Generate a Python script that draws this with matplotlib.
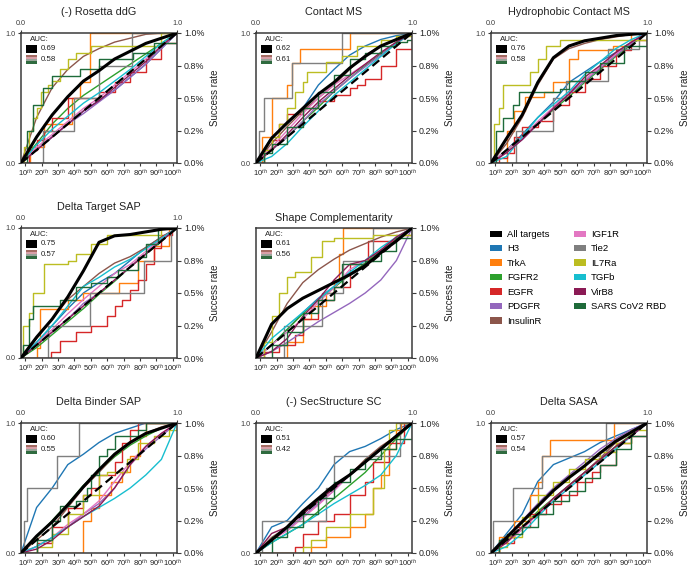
import matplotlib
matplotlib.use('Agg')
import matplotlib.pyplot as plt
from matplotlib.patches import Rectangle, Patch

plt.rcParams['font.family'] = ['Liberation Sans', 'DejaVu Sans']
plt.rcParams['mathtext.fontset'] = 'custom'
plt.rcParams['mathtext.rm'] = 'Liberation Sans'
plt.rcParams['mathtext.it'] = 'Liberation Sans:italic'

TARGETS = ['H3', 'TrkA', 'FGFR2', 'EGFR', 'PDGFR', 'InsulinR', 'IGF1R',
           'Tie2', 'IL7Ra', 'TGFb', 'VirB8', 'SARS CoV2 RBD']
COLORS = ['#1f77b4', '#ff7f0e', '#2ca02c', '#d62728', '#9467bd', '#8c564b',
          '#e377c2', '#7f7f7f', '#bcbd22', '#17becf', '#8b1a55', '#1e6b3a']
DECILES = [0, 0.1, 0.2, 0.3, 0.4, 0.5, 0.6, 0.7, 0.8, 0.9, 1.0]
PCT_LABELS = ['10', '20', '30', '40', '50', '60', '70', '80', '90', '100']
RATE_TICKS = [0, 0.25, 0.5, 0.75, 1.0]
RATE_LABELS = ['0.0%', '0.2%', '0.5%', '0.8%', '1.0%']

TITLES = ['(-) Rosetta ddG', 'Contact MS', 'Hydrophobic Contact MS',
          'Delta Target SAP', 'Shape Complementarity',
          'Delta Binder SAP', '(-) SecStructure SC', 'Delta SASA']
AUC_ALL = ['0.69', '0.62', '0.76', '0.75', '0.61', '0.60', '0.51', '0.57']
AUC_TGT = ['0.58', '0.61', '0.58', '0.57', '0.56', '0.55', '0.42', '0.54']

# curves: list of y on DECILES (drawn as lines) or (x, y) breakpoints (drawn as steps)
ALL_TARGETS = [
    [0, 0.2, 0.37, 0.51, 0.63, 0.71, 0.80, 0.86, 0.92, 0.96, 1],
    [0, 0.19, 0.31, 0.42, 0.53, 0.62, 0.73, 0.82, 0.9, 0.95, 1],
    [0, 0.19, 0.37, 0.62, 0.81, 0.9, 0.94, 0.96, 0.98, 0.99, 1],
    [0, 0.16, 0.30, 0.47, 0.67, 0.89, 0.94, 0.95, 0.97, 0.99, 1],
    [0, 0.26, 0.38, 0.46, 0.52, 0.58, 0.64, 0.71, 0.81, 0.9, 1],
    [0, 0.13, 0.24, 0.37, 0.51, 0.64, 0.76, 0.85, 0.92, 0.96, 1],
    [0, 0.1, 0.2, 0.32, 0.42, 0.52, 0.6, 0.7, 0.8, 0.9, 1],
    [0, 0.12, 0.24, 0.36, 0.48, 0.58, 0.67, 0.77, 0.86, 0.93, 1],
]

ROSETTA_DDG = [
    [0, 0.1, 0.2, 0.3, 0.4, 0.48, 0.56, 0.66, 0.76, 0.88, 1],
    ([0, 0.06, 0.15, 0.33, 0.38, 0.44, 1.0], [0, 0.12, 0.3, 0.5, 0.62, 1.0, 1.0]),
    [0, 0.15, 0.3, 0.42, 0.52, 0.6, 0.68, 0.76, 0.84, 0.92, 1],
    ([0, 0.05, 0.1, 0.15, 0.2, 0.3, 0.4, 0.5, 0.6, 0.7, 0.8, 0.9, 1],
     [0, 0.1, 0.18, 0.25, 0.35, 0.5, 0.5, 0.55, 0.62, 0.7, 0.8, 0.92, 1]),
    [0, 0.1, 0.2, 0.3, 0.38, 0.47, 0.56, 0.66, 0.76, 0.88, 1],
    [0, 0.35, 0.58, 0.72, 0.82, 0.88, 0.93, 0.96, 0.99, 1.0, 1.0],
    [0, 0.12, 0.22, 0.32, 0.42, 0.5, 0.6, 0.7, 0.8, 0.9, 1],
    ([0, 0.14, 0.34, 0.5, 0.71, 1.0], [0, 0.25, 0.5, 0.75, 1.0, 1.0]),
    ([0, 0.02, 0.05, 0.08, 0.1, 0.13, 0.17, 0.2, 0.25, 0.3, 0.35, 0.45, 0.9, 1],
     [0, 0.12, 0.25, 0.35, 0.42, 0.55, 0.6, 0.63, 0.72, 0.8, 0.85, 0.9, 1.0, 1.0]),
    [0, 0.14, 0.26, 0.36, 0.46, 0.54, 0.63, 0.72, 0.82, 0.92, 1],
    [0, 0.1, 0.2, 0.3, 0.4, 0.48, 0.58, 0.68, 0.78, 0.9, 1],
    ([0, 0.04, 0.08, 0.14, 0.2, 0.38, 0.5, 0.72, 0.85, 1.0],
     [0, 0.25, 0.45, 0.58, 0.67, 0.72, 0.8, 0.85, 0.92, 1.0]),
]

CONTACT_MS = [
    [0, 0.2, 0.3, 0.42, 0.6, 0.72, 0.83, 0.9, 0.95, 0.98, 1],
    ([0, 0.04, 0.1, 0.2, 0.23, 0.28, 0.6, 1], [0, 0.2, 0.5, 0.6, 0.77, 0.88, 1.0, 1.0]),
    [0, 0.1, 0.2, 0.32, 0.43, 0.55, 0.65, 0.75, 0.84, 0.93, 1],
    ([0, 0.05, 0.1, 0.15, 0.2, 0.3, 0.4, 0.5, 0.6, 0.65, 0.7, 0.8, 0.9, 1],
     [0, 0.1, 0.18, 0.3, 0.38, 0.42, 0.48, 0.52, 0.58, 0.6, 0.65, 0.75, 0.88, 1]),
    [0, 0.1, 0.2, 0.32, 0.45, 0.55, 0.65, 0.74, 0.83, 0.92, 1],
    [0, 0.15, 0.28, 0.4, 0.5, 0.6, 0.72, 0.83, 0.9, 0.95, 1],
    [0, 0.12, 0.25, 0.38, 0.5, 0.6, 0.68, 0.76, 0.85, 0.93, 1],
    ([0, 0.02, 0.05, 0.23, 0.55, 1], [0, 0.25, 0.5, 0.77, 1.0, 1.0]),
    ([0, 0.05, 0.1, 0.15, 0.2, 0.25, 0.3, 0.33, 0.45, 0.55, 0.65, 0.8, 0.9, 1],
     [0, 0.1, 0.2, 0.3, 0.42, 0.55, 0.62, 0.7, 0.78, 0.82, 0.9, 0.95, 0.98, 1]),
    [0, 0.05, 0.15, 0.28, 0.4, 0.52, 0.62, 0.72, 0.82, 0.92, 1],
    [0, 0.1, 0.22, 0.35, 0.47, 0.57, 0.67, 0.76, 0.85, 0.93, 1],
    ([0, 0.05, 0.1, 0.2, 0.3, 0.4, 0.5, 0.6, 0.7, 0.8, 0.9, 0.97, 1],
     [0, 0.08, 0.15, 0.28, 0.42, 0.55, 0.68, 0.8, 0.85, 0.9, 0.93, 0.95, 0.95]),
]

HYDRO_CONTACT_MS = [
    [0, 0.1, 0.22, 0.35, 0.47, 0.62, 0.7, 0.78, 0.85, 0.93, 1],
    ([0, 0.1, 0.15, 0.22, 0.34, 0.4, 0.5, 0.56, 0.78, 0.9, 1],
     [0, 0.25, 0.4, 0.51, 0.55, 0.62, 0.8, 0.87, 0.9, 1.0, 1.0]),
    [0, 0.1, 0.2, 0.3, 0.41, 0.51, 0.62, 0.72, 0.82, 0.91, 1],
    ([0, 0.05, 0.1, 0.15, 0.2, 0.3, 0.4, 0.5, 0.6, 0.7, 0.8, 0.9, 1],
     [0, 0.04, 0.08, 0.2, 0.28, 0.32, 0.45, 0.55, 0.65, 0.75, 0.87, 0.95, 1]),
    [0, 0.08, 0.18, 0.3, 0.42, 0.53, 0.63, 0.73, 0.83, 0.92, 1],
    [0, 0.15, 0.35, 0.6, 0.8, 0.88, 0.92, 0.95, 0.97, 0.99, 1],
    [0, 0.1, 0.2, 0.32, 0.43, 0.55, 0.64, 0.74, 0.84, 0.93, 1],
    ([0, 0.16, 0.4, 0.48, 0.75, 0.95, 1], [0, 0.25, 0.5, 0.63, 0.88, 1.0, 1.0]),
    ([0, 0.02, 0.05, 0.08, 0.17, 0.25, 0.3, 0.35, 0.44, 0.9, 1],
     [0, 0.3, 0.42, 0.6, 0.6, 0.7, 0.8, 0.9, 0.95, 0.95, 1]),
    [0, 0.05, 0.2, 0.35, 0.45, 0.55, 0.68, 0.78, 0.88, 0.95, 1],
    [0, 0.08, 0.18, 0.3, 0.42, 0.53, 0.66, 0.75, 0.85, 0.93, 1],
    ([0, 0.03, 0.08, 0.14, 0.18, 0.44, 0.5, 0.6, 0.7, 0.85, 1],
     [0, 0.25, 0.35, 0.45, 0.55, 0.57, 0.63, 0.7, 0.77, 0.9, 1.0]),
]

TARGET_SAP = [
    [0, 0.12, 0.25, 0.38, 0.5, 0.58, 0.65, 0.75, 0.85, 0.93, 1],
    ([0, 0.1, 0.12, 0.25, 0.3, 0.4, 0.63, 0.75, 0.85, 0.95, 1],
     [0, 0.08, 0.38, 0.38, 0.45, 0.5, 0.58, 0.75, 0.86, 1.0, 1.0]),
    [0, 0.08, 0.18, 0.28, 0.38, 0.49, 0.59, 0.7, 0.8, 0.9, 1],
    ([0, 0.19, 0.25, 0.35, 0.45, 0.55, 0.6, 0.65, 0.7, 0.75, 0.8, 0.85, 0.9, 0.97, 1],
     [0, 0.05, 0.13, 0.2, 0.25, 0.32, 0.4, 0.45, 0.52, 0.6, 0.72, 0.85, 0.95, 1, 1]),
    [0, 0.1, 0.2, 0.3, 0.42, 0.5, 0.6, 0.7, 0.8, 0.92, 1],
    [0, 0.15, 0.3, 0.45, 0.55, 0.65, 0.73, 0.78, 0.85, 0.93, 1],
    [0, 0.12, 0.22, 0.34, 0.45, 0.55, 0.65, 0.72, 0.82, 0.92, 1],
    ([0, 0.17, 0.44, 0.79, 0.96, 1], [0, 0.25, 0.5, 0.75, 1.0, 1.0]),
    ([0, 0.01, 0.05, 0.08, 0.15, 0.3, 0.35, 0.45, 0.55, 0.9, 1],
     [0, 0.25, 0.35, 0.5, 0.72, 0.75, 0.8, 0.88, 0.95, 1.0, 1.0]),
    [0, 0.12, 0.25, 0.4, 0.55, 0.62, 0.7, 0.76, 0.84, 0.92, 1],
    [0, 0.1, 0.2, 0.3, 0.4, 0.5, 0.6, 0.7, 0.8, 0.9, 1],
    ([0, 0.01, 0.05, 0.08, 0.25, 0.35, 0.45, 0.55, 0.62, 0.75, 0.8, 0.88, 1],
     [0, 0.1, 0.3, 0.4, 0.45, 0.55, 0.58, 0.62, 0.68, 0.78, 0.88, 1.0, 1.0]),
]

SHAPE_COMP = [
    [0, 0.1, 0.22, 0.35, 0.46, 0.55, 0.65, 0.72, 0.82, 0.92, 1],
    ([0, 0.2, 0.3, 0.35, 0.45, 0.5, 0.53, 0.56, 1], [0, 0.12, 0.3, 0.4, 0.5, 0.6, 0.8, 1.0, 1.0]),
    [0, 0.1, 0.22, 0.34, 0.45, 0.54, 0.64, 0.73, 0.83, 0.92, 1],
    ([0, 0.05, 0.15, 0.25, 0.3, 0.4, 0.5, 0.6, 0.68, 0.72, 0.9, 1],
     [0, 0.05, 0.1, 0.18, 0.3, 0.45, 0.55, 0.72, 0.72, 0.9, 0.95, 1]),
    [0, 0.05, 0.12, 0.2, 0.28, 0.35, 0.42, 0.5, 0.6, 0.75, 1],
    [0, 0.2, 0.42, 0.58, 0.68, 0.76, 0.83, 0.88, 0.93, 0.97, 1],
    [0, 0.1, 0.2, 0.3, 0.43, 0.54, 0.68, 0.75, 0.83, 0.93, 1],
    ([0, 0.18, 0.42, 0.56, 0.75, 1], [0, 0.25, 0.5, 0.75, 1.0, 1.0]),
    ([0, 0.05, 0.1, 0.15, 0.2, 0.25, 0.35, 0.42, 0.5, 0.75, 0.97, 1],
     [0, 0.12, 0.32, 0.5, 0.62, 0.66, 0.78, 0.9, 0.92, 0.95, 0.95, 1]),
    [0, 0.15, 0.25, 0.35, 0.45, 0.55, 0.66, 0.75, 0.85, 0.93, 1],
    [0, 0.05, 0.15, 0.32, 0.45, 0.6, 0.72, 0.75, 0.83, 0.93, 1],
    ([0, 0.1, 0.2, 0.3, 0.4, 0.5, 0.55, 0.7, 0.8, 0.9, 1],
     [0, 0.1, 0.2, 0.35, 0.45, 0.55, 0.72, 0.75, 0.82, 0.92, 1]),
]

BINDER_SAP = [
    [0, 0.35, 0.5, 0.68, 0.76, 0.85, 0.92, 0.96, 1.0, 1.0, 1.0],
    ([0, 0.4, 0.45, 0.5, 0.58, 0.65, 0.7, 0.76, 0.8, 1],
     [0, 0.25, 0.35, 0.45, 0.55, 0.62, 0.75, 0.9, 1.0, 1.0]),
    [0, 0.12, 0.25, 0.38, 0.52, 0.63, 0.74, 0.83, 0.9, 0.96, 1],
    ([0, 0.1, 0.2, 0.3, 0.4, 0.45, 0.5, 0.6, 0.65, 0.7, 0.75, 1],
     [0, 0.08, 0.2, 0.35, 0.45, 0.5, 0.6, 0.7, 0.85, 0.95, 1.0, 1.0]),
    [0, 0.05, 0.12, 0.2, 0.3, 0.38, 0.5, 0.68, 0.8, 0.9, 1],
    [0, 0.1, 0.2, 0.35, 0.5, 0.62, 0.75, 0.85, 0.92, 0.97, 1],
    [0, 0.05, 0.12, 0.22, 0.3, 0.4, 0.55, 0.7, 0.82, 0.92, 1],
    ([0, 0.02, 0.04, 0.23, 0.37, 1], [0, 0.25, 0.5, 0.75, 1.0, 1.0]),
    ([0, 0.1, 0.2, 0.3, 0.4, 0.5, 0.55, 0.6, 0.68, 0.75, 0.85, 0.95, 1],
     [0, 0.05, 0.15, 0.3, 0.45, 0.6, 0.62, 0.62, 0.72, 0.85, 0.9, 0.95, 1]),
    [0, 0.05, 0.12, 0.2, 0.28, 0.35, 0.42, 0.5, 0.6, 0.72, 1],
    [0, 0.03, 0.1, 0.2, 0.28, 0.36, 0.5, 0.68, 0.82, 0.92, 1],
    ([0, 0.1, 0.2, 0.25, 0.35, 0.42, 0.45, 0.5, 0.55, 0.6, 0.75, 0.8, 1],
     [0, 0.1, 0.25, 0.36, 0.4, 0.5, 0.6, 0.75, 0.8, 0.9, 0.95, 1.0, 1.0]),
]

SEC_STRUCT_SC = [
    [0, 0.2, 0.25, 0.38, 0.5, 0.68, 0.78, 0.82, 0.88, 0.95, 1],
    ([0, 0.35, 0.45, 0.6, 0.7, 0.75, 0.8, 0.85, 0.9, 0.93, 1],
     [0, 0.05, 0.12, 0.2, 0.3, 0.5, 0.6, 0.8, 0.95, 1.0, 1.0]),
    [0, 0.08, 0.15, 0.22, 0.32, 0.42, 0.52, 0.62, 0.75, 0.88, 1],
    ([0, 0.25, 0.3, 0.4, 0.5, 0.6, 0.7, 0.75, 0.85, 0.95, 1],
     [0, 0.05, 0.15, 0.25, 0.3, 0.45, 0.55, 0.7, 0.85, 1.0, 1.0]),
    [0, 0.1, 0.18, 0.28, 0.38, 0.48, 0.6, 0.7, 0.8, 0.9, 1],
    [0, 0.12, 0.2, 0.3, 0.4, 0.5, 0.6, 0.72, 0.82, 0.9, 1],
    [0, 0.1, 0.17, 0.27, 0.37, 0.48, 0.6, 0.7, 0.8, 0.9, 1],
    ([0, 0.04, 0.45, 0.5, 0.92, 1], [0, 0.25, 0.5, 0.75, 1.0, 1.0]),
    ([0, 0.3, 0.35, 0.45, 0.6, 0.7, 0.75, 0.82, 0.85, 0.9, 1],
     [0, 0.05, 0.1, 0.2, 0.3, 0.3, 0.5, 0.8, 0.95, 1.0, 1.0]),
    [0, 0.08, 0.15, 0.22, 0.3, 0.38, 0.45, 0.52, 0.6, 0.75, 1],
    [0, 0.15, 0.2, 0.3, 0.4, 0.5, 0.6, 0.7, 0.8, 0.9, 1],
    ([0, 0.1, 0.2, 0.3, 0.4, 0.5, 0.6, 0.7, 0.8, 0.9, 1],
     [0, 0.12, 0.2, 0.3, 0.42, 0.55, 0.65, 0.72, 0.8, 0.88, 1]),
]

DELTA_SASA = [
    [0, 0.15, 0.3, 0.55, 0.68, 0.73, 0.78, 0.85, 0.9, 0.95, 1],
    ([0, 0.05, 0.15, 0.25, 0.3, 0.33, 0.38, 0.79, 1],
     [0, 0.12, 0.25, 0.45, 0.55, 0.75, 0.87, 1.0, 1.0]),
    [0, 0.1, 0.2, 0.32, 0.42, 0.52, 0.62, 0.72, 0.82, 0.91, 1],
    ([0, 0.05, 0.15, 0.25, 0.35, 0.45, 0.55, 0.65, 0.7, 0.75, 0.8, 0.9, 1],
     [0, 0.08, 0.2, 0.3, 0.38, 0.45, 0.55, 0.62, 0.68, 0.68, 0.85, 0.9, 1]),
    [0, 0.12, 0.25, 0.38, 0.5, 0.6, 0.7, 0.8, 0.88, 0.95, 1],
    [0, 0.1, 0.2, 0.3, 0.42, 0.52, 0.62, 0.73, 0.85, 0.92, 1],
    [0, 0.08, 0.18, 0.3, 0.4, 0.5, 0.6, 0.7, 0.8, 0.9, 1],
    ([0, 0.01, 0.14, 0.33, 0.74, 1], [0, 0.25, 0.5, 0.75, 1.0, 1.0]),
    ([0, 0.05, 0.1, 0.2, 0.3, 0.4, 0.5, 0.6, 0.7, 0.8, 0.9, 1],
     [0, 0.05, 0.12, 0.28, 0.45, 0.55, 0.65, 0.72, 0.78, 0.85, 0.95, 1]),
    [0, 0.05, 0.15, 0.28, 0.4, 0.5, 0.6, 0.7, 0.8, 0.9, 1],
    [0, 0.08, 0.2, 0.3, 0.42, 0.52, 0.62, 0.72, 0.82, 0.9, 1],
    ([0, 0.05, 0.1, 0.2, 0.3, 0.4, 0.5, 0.6, 0.7, 0.8, 0.9, 1],
     [0, 0.1, 0.15, 0.2, 0.3, 0.4, 0.48, 0.58, 0.68, 0.8, 0.9, 1]),
]

PANELS = [ROSETTA_DDG, CONTACT_MS, HYDRO_CONTACT_MS, TARGET_SAP, SHAPE_COMP,
          BINDER_SAP, SEC_STRUCT_SC, DELTA_SASA]
GRID_POS = [(0, 0), (0, 1), (0, 2), (1, 0), (1, 1), (2, 0), (2, 1), (2, 2)]

W, H = 690, 570
fig = plt.figure(figsize=(W / 100, H / 100), dpi=100)

COL_LEFT = [21, 256, 491]
ROW_TOP = [33, 228, 423]
AX_W, AX_H = 156, 130
SPINE = '#3a3a3a'

STRIPES = ['#a56b62', '#d8a0a8', '#9aa49a', '#2f6b3f']


def fwd(x):
    return 0.75 + x * 9.5


def inv(p):
    return (p - 0.75) / 9.5


for k, (curves, (r, c)) in enumerate(zip(PANELS, GRID_POS)):
    left = COL_LEFT[c] / W
    bottom = 1 - (ROW_TOP[r] + AX_H) / H
    ax = fig.add_axes([left, bottom, AX_W / W, AX_H / H])
    ax.set_xlim(0, 1)
    ax.set_ylim(0, 1)
    for spn in ax.spines.values():
        spn.set_color(SPINE)
        spn.set_linewidth(1.1)

    for curve, color in zip(curves, COLORS):
        if isinstance(curve, tuple):
            ax.plot(curve[0], curve[1], color=color, lw=1.0, drawstyle='steps-post',
                    clip_on=True, zorder=2)
        else:
            ax.plot(DECILES, curve, color=color, lw=1.0, zorder=2)
    ax.plot(DECILES, ALL_TARGETS[k], color='black', lw=2.2, zorder=4)
    ax.plot([0, 1], [0, 1], color='black', lw=1.6, ls=(0, (4, 2.2)), zorder=5)

    shape_panel = (r, c) == (1, 1)
    ax.set_xticks([0, 1])
    ax.set_yticks([0, 1])
    if shape_panel:
        ax.tick_params(axis='x', bottom=False, labelbottom=False, top=False, labeltop=False)
        ax.tick_params(axis='y', left=False, labelleft=False)
    else:
        ax.set_xticklabels(['0.0', '1.0'])
        ax.set_yticklabels(['0.0', '1.0'])
        ax.tick_params(axis='x', bottom=False, labelbottom=False, top=True, labeltop=True,
                       labelsize=5.2, length=2, pad=2, colors=SPINE)
        ax.tick_params(axis='y', labelsize=5.2, length=2, pad=2, colors=SPINE)

    # bottom percentile axis
    sb = ax.secondary_xaxis('bottom', functions=(fwd, inv))
    sb.set_xticks(range(1, 11))
    sb.set_xticklabels([p + r'$^{th}$' for p in PCT_LABELS])
    sb.tick_params(labelsize=5.5, length=2, pad=1.5, colors=SPINE)
    sb.spines['bottom'].set_visible(False)
    for lab in sb.get_xticklabels():
        lab.set_color('#222222')

    # right success-rate axis
    sr = ax.secondary_yaxis('right')
    sr.set_yticks(RATE_TICKS)
    sr.set_yticklabels(RATE_LABELS)
    sr.tick_params(labelsize=6.4, length=3, pad=2, colors=SPINE)
    sr.spines['right'].set_visible(False)
    for lab in sr.get_yticklabels():
        lab.set_color('#222222')
    sr.set_ylabel('Success rate', fontsize=7.0, labelpad=4, color='#222222')

    ax.set_title(TITLES[k], fontsize=7.8, pad=5 if shape_panel else 13, color='#222222')

    # AUC mini legend
    ax.text(0.06, 0.975, 'AUC:', transform=ax.transAxes, fontsize=5.7, va='top',
            ha='left', color='#222222', zorder=6)
    ax.add_patch(Rectangle((0.03, 0.845), 0.075, 0.065, transform=ax.transAxes,
                           facecolor='black', edgecolor='none', zorder=6))
    ax.text(0.125, 0.878, AUC_ALL[k], transform=ax.transAxes, fontsize=5.7,
            va='center', ha='left', color='#222222', zorder=6)
    sh = 0.065 / len(STRIPES)
    for i, sc in enumerate(STRIPES):
        ax.add_patch(Rectangle((0.03, 0.765 - i * sh + 0.065 - sh), 0.075, sh,
                               transform=ax.transAxes, facecolor=sc,
                               edgecolor='none', zorder=6))
    ax.text(0.125, 0.797, AUC_TGT[k], transform=ax.transAxes, fontsize=5.7,
            va='center', ha='left', color='#222222', zorder=6)

handles = [Patch(facecolor='black', label='All targets')] + \
    [Patch(facecolor=col, label=t) for t, col in zip(TARGETS, COLORS)]
fig.legend(handles=handles, loc='upper left', bbox_to_anchor=(490 / W, 1 - 230 / H),
           ncol=2, frameon=False, fontsize=6.8, handlelength=1.3, handleheight=0.65,
           handletextpad=0.5, labelspacing=0.58, columnspacing=2.6, borderpad=0,
           borderaxespad=0)

fig.savefig('out.png', dpi=100)
